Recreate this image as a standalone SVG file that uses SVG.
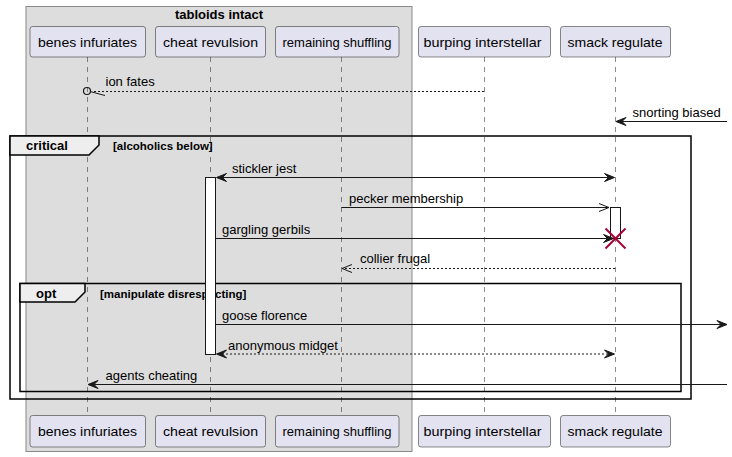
<svg xmlns="http://www.w3.org/2000/svg" width="732" height="457" viewBox="0 0 732 457">
<style>
.part{fill:#E2E2F0;stroke:#181818;stroke-width:0.5}
.pt{font-family:"Liberation Sans",Arial,sans-serif;font-size:13.5px;fill:#000;text-anchor:middle}
.life{stroke:#181818;stroke-width:0.5;stroke-dasharray:5,5;fill:none}
.msg{stroke:#181818;stroke-width:1;fill:none}
.dot{stroke:#181818;stroke-width:1;fill:none;stroke-dasharray:2,2}
.head{fill:#181818;stroke:#181818;stroke-width:1}
.mt{font-family:"Liberation Sans",Arial,sans-serif;font-size:13px;fill:#000}
.frame{fill:none;stroke:#000;stroke-width:1.5}
.tab{fill:#EEEEEE;stroke:#000;stroke-width:1.5}
.ft{font-family:"Liberation Sans",Arial,sans-serif;font-size:13px;font-weight:bold;fill:#000}
.ct{font-family:"Liberation Sans",Arial,sans-serif;font-size:11.5px;font-weight:bold;fill:#000}
.act{fill:#FFFFFF;stroke:#181818;stroke-width:1}
</style>
<g id="box-tabloids-intact">
<rect x="26" y="6.5" width="386" height="445" fill="#DDDDDD" stroke="#888888" stroke-width="1"/>
<text x="219" y="19" class="ft" text-anchor="middle">tabloids intact</text>
</g>
<g id="lifelines">
<line class="life" x1="87.5" y1="57" x2="87.5" y2="416"/>
<line class="life" x1="210.5" y1="57" x2="210.5" y2="416"/>
<line class="life" x1="341.5" y1="57" x2="341.5" y2="416"/>
<line class="life" x1="484.5" y1="57" x2="484.5" y2="416"/>
<line class="life" x1="615.5" y1="57" x2="615.5" y2="416"/>
</g>
<g id="frame-critical">
<rect class="frame" x="10" y="136" width="681" height="263"/>
<path class="tab" d="M10,136 L99,136 L99,145 L89,155 L10,155 Z"/>
<text x="26" y="150" class="ft">critical</text>
<text x="113" y="150" class="ct">[alcoholics below]</text>
</g>
<g id="frame-opt">
<rect class="frame" x="20" y="283.5" width="661" height="108"/>
<path class="tab" d="M20,283.5 L85,283.5 L85,292 L75,302 L20,302 Z"/>
<text x="36" y="298" class="ft">opt</text>
<text x="100" y="298" class="ct">[manipulate disrespecting]</text>
</g>
<g id="activations">
<rect class="act" x="205.5" y="177.5" width="10" height="177"/>
<rect class="act" x="610.5" y="207.5" width="10" height="31"/>
</g>
<g id="connectors">
<line class="dot" x1="484" y1="91.5" x2="92" y2="91.5"/>
<circle cx="87" cy="91" r="3.5" fill="none" stroke="#181818" stroke-width="1.2"/>
<line class="msg" x1="90" y1="91.5" x2="105" y2="95.5"/>
<text x="105.5" y="86" class="mt">ion fates</text>
<line class="msg" x1="727" y1="121.5" x2="617" y2="121.5"/>
<polygon class="head" points="616,121.5 626,117.5 622,121.5 626,125.5"/>
<text x="632.5" y="117" class="mt">snorting biased</text>
<line class="msg" x1="217" y1="177.5" x2="613" y2="177.5"/>
<polygon class="head" points="216.5,177.5 226.5,173.5 222.5,177.5 226.5,181.5"/>
<polygon class="head" points="614.5,177.5 604.5,173.5 608.5,177.5 604.5,181.5"/>
<text x="232" y="173" class="mt">stickler jest</text>
<line class="msg" x1="341.5" y1="207.5" x2="609" y2="207.5"/>
<polyline class="msg" points="599,203.5 609,207.5 599,211.5"/>
<text x="349" y="203" class="mt">pecker membership</text>
<line class="msg" x1="216" y1="238.5" x2="612" y2="238.5"/>
<polygon class="head" points="613.5,238.5 603.5,234.5 607.5,238.5 603.5,242.5"/>
<text x="222" y="234" class="mt">gargling gerbils</text>
<line x1="605.5" y1="228.5" x2="625.5" y2="248.5" stroke="#A80036" stroke-width="2"/>
<line x1="605.5" y1="248.5" x2="625.5" y2="228.5" stroke="#A80036" stroke-width="2"/>
<line class="dot" x1="615" y1="268.5" x2="343" y2="268.5"/>
<polyline class="msg" points="352,264.5 342,268.5 352,272.5"/>
<text x="360" y="263" class="mt">collier frugal</text>
<line class="msg" x1="216" y1="324.5" x2="725" y2="324.5"/>
<polygon class="head" points="727,324.5 717,320.5 721,324.5 717,328.5"/>
<text x="222" y="320" class="mt">goose florence</text>
<line class="dot" x1="218" y1="354" x2="613" y2="354"/>
<polygon class="head" points="216.5,354 226.5,350 222.5,354 226.5,358"/>
<polygon class="head" points="614.5,354 604.5,350 608.5,354 604.5,358"/>
<text x="228" y="349.5" class="mt">anonymous midget</text>
<line class="msg" x1="727" y1="384.5" x2="89" y2="384.5"/>
<polygon class="head" points="88,384.5 98,380.5 94,384.5 98,388.5"/>
<text x="105.5" y="380" class="mt">agents cheating</text>
</g>
<g id="p-benes-infuriates">
<rect class="part" x="30" y="26.5" width="115.5" height="30.5" rx="2.5"/>
<text x="87.5" y="46.5" class="pt" textLength="99" lengthAdjust="spacingAndGlyphs">benes infuriates</text>
<rect class="part" x="30" y="415.5" width="115.5" height="31.5" rx="2.5"/>
<text x="87.5" y="436" class="pt" textLength="99" lengthAdjust="spacingAndGlyphs">benes infuriates</text>
</g>
<g id="p-cheat-revulsion">
<rect class="part" x="155.5" y="26.5" width="110" height="30.5" rx="2.5"/>
<text x="210.5" y="46.5" class="pt" textLength="95" lengthAdjust="spacingAndGlyphs">cheat revulsion</text>
<rect class="part" x="155.5" y="415.5" width="110" height="31.5" rx="2.5"/>
<text x="210.5" y="436" class="pt" textLength="95" lengthAdjust="spacingAndGlyphs">cheat revulsion</text>
</g>
<g id="p-remaining-shuffling">
<rect class="part" x="275.5" y="26.5" width="123.5" height="30.5" rx="2.5"/>
<text x="337" y="46.5" class="pt" textLength="109" lengthAdjust="spacingAndGlyphs">remaining shuffling</text>
<rect class="part" x="275.5" y="415.5" width="123.5" height="31.5" rx="2.5"/>
<text x="337" y="436" class="pt" textLength="109" lengthAdjust="spacingAndGlyphs">remaining shuffling</text>
</g>
<g id="p-burping-interstellar">
<rect class="part" x="418.5" y="26.5" width="132" height="30.5" rx="2.5"/>
<text x="482.5" y="46.5" class="pt" textLength="118" lengthAdjust="spacingAndGlyphs">burping interstellar</text>
<rect class="part" x="418.5" y="415.5" width="132" height="31.5" rx="2.5"/>
<text x="482.5" y="436" class="pt" textLength="118" lengthAdjust="spacingAndGlyphs">burping interstellar</text>
</g>
<g id="p-smack-regulate">
<rect class="part" x="560.5" y="26.5" width="110" height="30.5" rx="2.5"/>
<text x="615" y="46.5" class="pt" textLength="95" lengthAdjust="spacingAndGlyphs">smack regulate</text>
<rect class="part" x="560.5" y="415.5" width="110" height="31.5" rx="2.5"/>
<text x="615" y="436" class="pt" textLength="95" lengthAdjust="spacingAndGlyphs">smack regulate</text>
</g>
</svg>
